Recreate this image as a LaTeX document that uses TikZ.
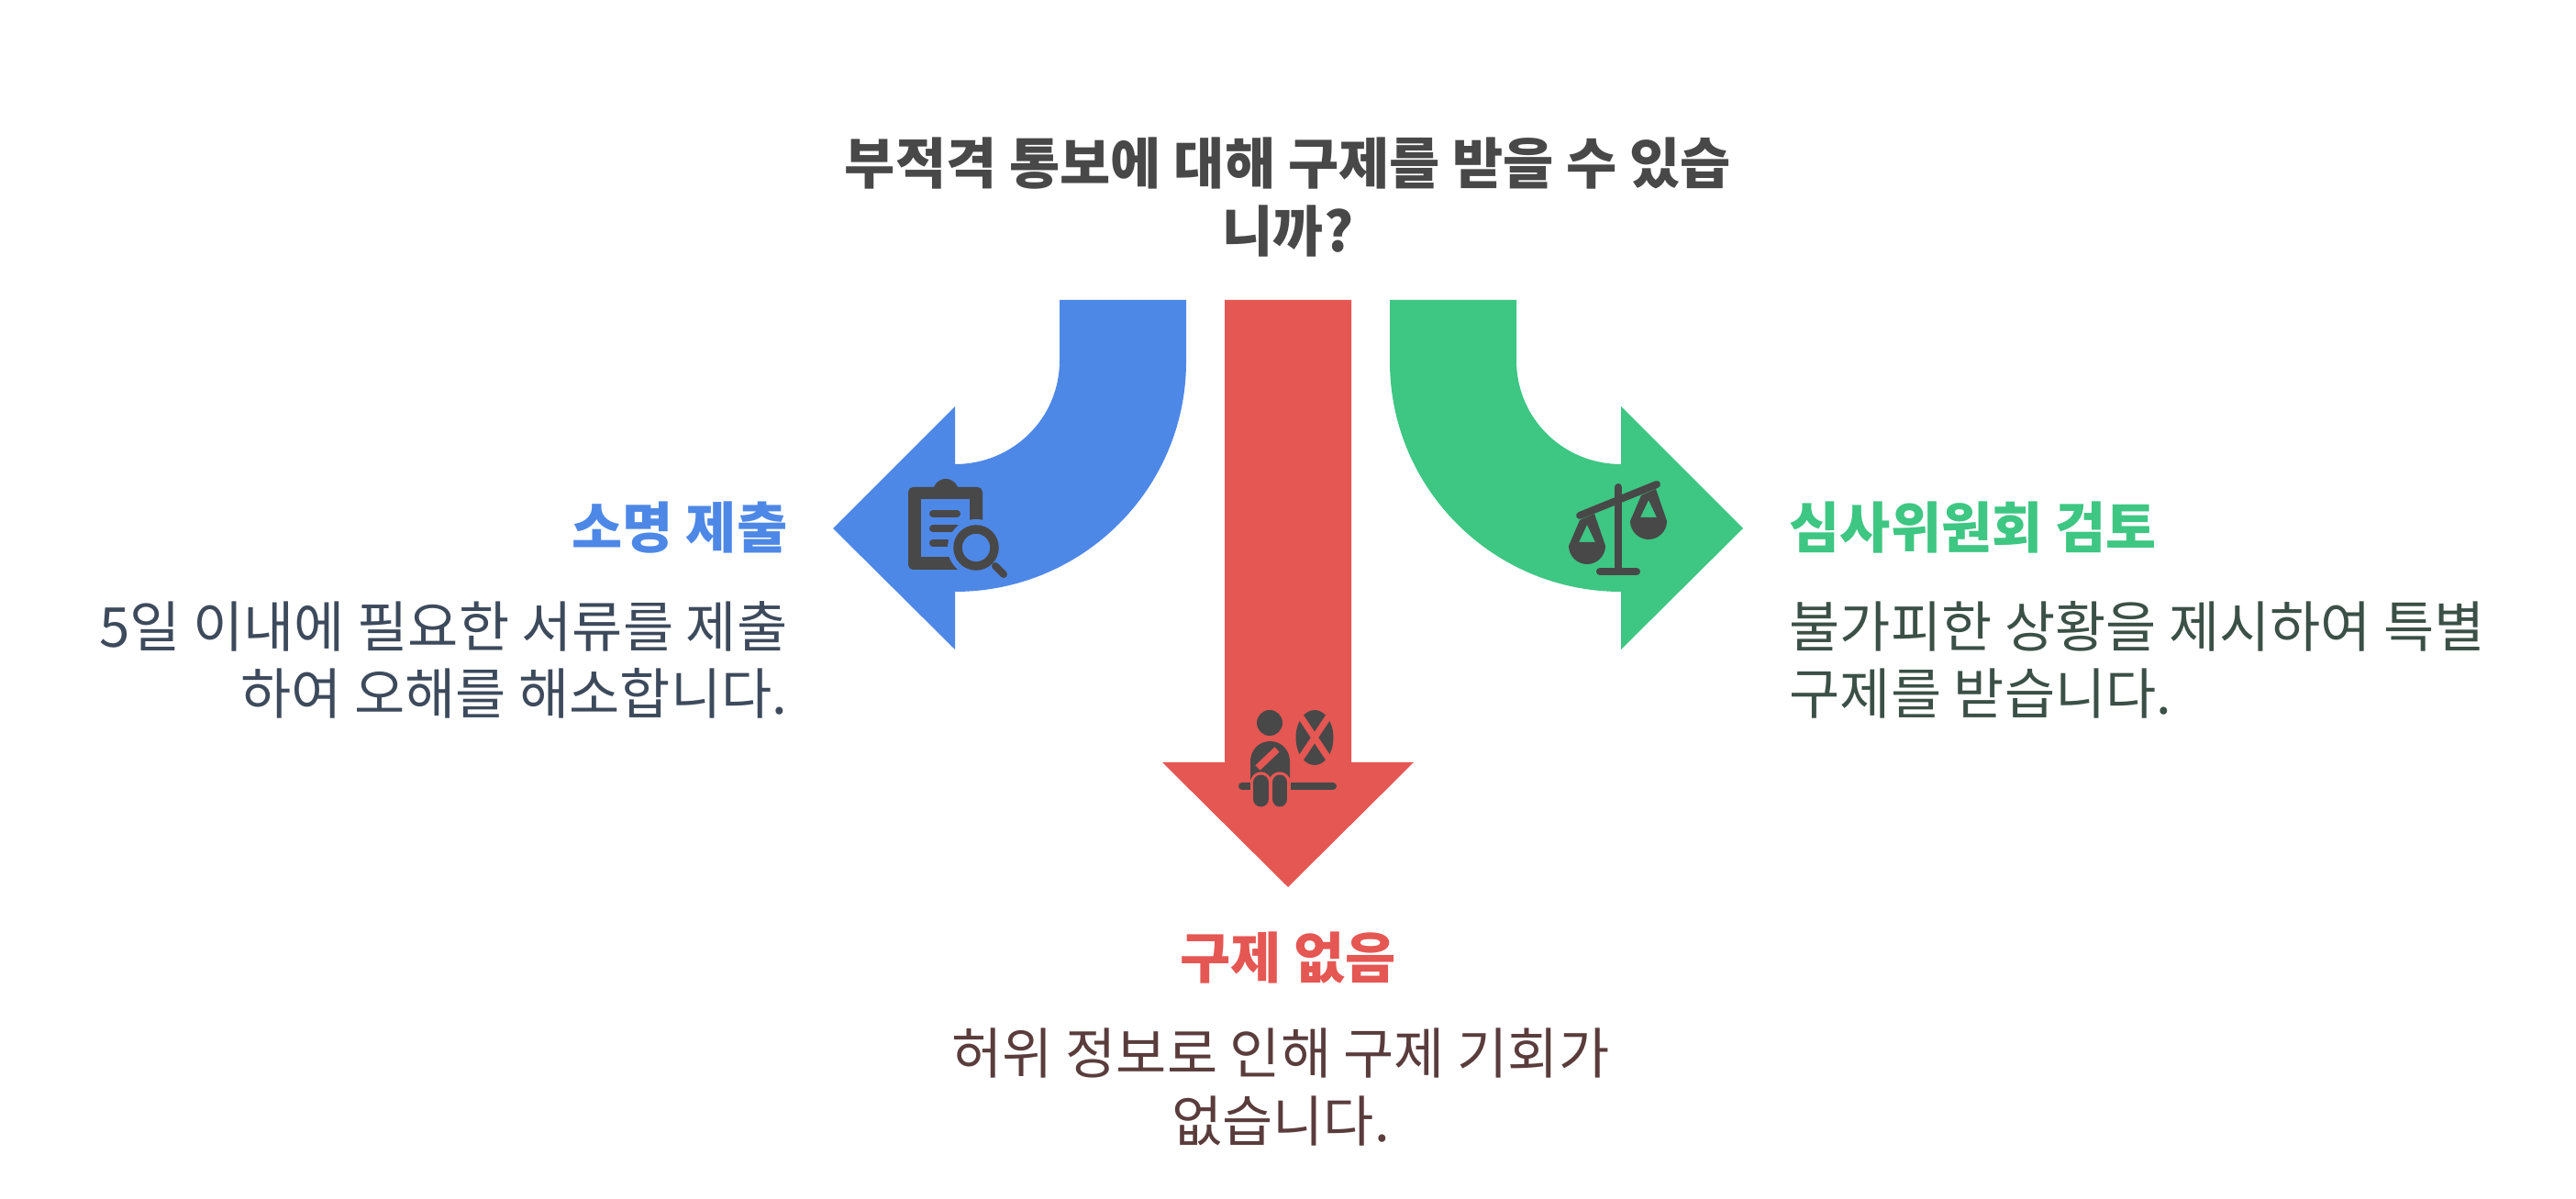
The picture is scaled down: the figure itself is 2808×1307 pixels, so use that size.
\documentclass[tikz,border=0pt]{standalone}
\usepackage{fontspec}
\setmainfont{Noto Sans CJK KR}
\definecolor{appealblue}{HTML}{4E88E7}
\definecolor{noneRed}{HTML}{E55753}
\definecolor{reviewgreen}{HTML}{3EC683}
\definecolor{icondark}{HTML}{484848}
\definecolor{bodyblue}{HTML}{3D4A5C}
\definecolor{bodyred}{HTML}{5A3C3C}
\definecolor{bodygreen}{HTML}{3B5046}
\tikzset{
  headtext/.style={font=\fontsize{17.07}{20.8}\selectfont\bfseries, align=center, text=icondark, inner sep=0pt},
  titletext/.style={font=\fontsize{17.07}{20.8}\selectfont\bfseries, inner sep=0pt},
  bodytext/.style={font=\fontsize{17.07}{20.8}\selectfont, inner sep=0pt},
  iconline/.style={draw=icondark, line width=2.28pt, line cap=round}
}
\begin{document}
\begin{tikzpicture}[x=0.01cm,y=-0.01cm]
  \useasboundingbox (0,0) rectangle (2808,1307);
  % three arrows
  \fill[appealblue] (1155,327) -- (1293,327) -- (1293,394) .. controls (1293,533) and (1180,645) .. (1041,645)
    -- (1041,708) -- (908,576) -- (1041,443) -- (1041,506) .. controls (1104,506) and (1155,456) .. (1155,393) -- cycle;
  \fill[noneRed] (1335,327) -- (1473,327) -- (1473,831) -- (1541,831) -- (1404,967) -- (1267,831) -- (1335,831) -- cycle;
  \fill[reviewgreen] (1653,327) -- (1515,327) -- (1515,394) .. controls (1515,533) and (1628,645) .. (1767,645)
    -- (1767,708) -- (1900,576) -- (1767,443) -- (1767,506) .. controls (1704,506) and (1653,456) .. (1653,393) -- cycle;
  % clipboard icon
  \fill[icondark, rounded corners=1.5pt] (990,531) rectangle (1071,621);
  \fill[icondark] (1031,536) circle[radius=14];
  \fill[appealblue] (1004,544) rectangle (1057,607);
  \draw[iconline] (1017,560) -- (1043,560);
  \draw[iconline] (1017,576) -- (1043,576);
  \draw[iconline] (1017,592) -- (1032,592);
  \fill[appealblue] (1064,597) circle[radius=31];
  \draw[icondark, line width=2.7pt] (1064,597) circle[radius=20];
  \draw[iconline] (1085,617) -- (1094,626);
  % person icon
  \fill[icondark] (1384,788) circle[radius=14];
  \fill[icondark] (1433,804) ellipse[x radius=20.5, y radius=30];
  \draw[noneRed, line width=2pt] (1411,771) -- (1455,837);
  \draw[noneRed, line width=2pt] (1455,771) -- (1411,837);
  \fill[icondark] (1363,850) -- (1363,830) .. controls (1363,818) and (1372,808) .. (1384.5,808)
    .. controls (1397,808) and (1406,818) .. (1406,830) -- (1406,850) -- cycle;
  \draw[noneRed, line width=2.1pt] (1371,837) -- (1392,817);
  \draw[iconline] (1354,857) -- (1453,857);
  \foreach \legx in {1374.5,1395} {
    \draw[noneRed, line width=6.6pt, line cap=round] (\legx,853) -- (\legx,871);
    \draw[icondark, line width=4.8pt, line cap=round] (\legx,853) -- (\legx,871);
  }
  % scales icon
  \draw[iconline] (1764,531) -- (1764,623);
  \draw[iconline] (1744,623) -- (1784,623);
  \draw[iconline] (1722,562) -- (1806,528);
  \foreach \panx/\pany in {1730/595,1797/568} {
    \begin{scope}[shift={(\panx,\pany)}]
      \fill[icondark, even odd rule] (-8,-28) -- (8,-35) -- (20,0) .. controls (20,11) and (11,20) .. (0,20)
        .. controls (-11,20) and (-20,11) .. (-20,0) -- cycle
        (0,-23) -- (9,-4) -- (-9,-4) -- cycle;
    \end{scope}
  }
  % labels
  \node[headtext] (question) at (1404,215) {부적격 통보에 대해 구제를 받을 수 있습\\니까?};
  \node[titletext, text=appealblue, anchor=east] (appealtitle) at (859,575) {소명 제출};
  \node[bodytext, text=bodyblue, anchor=east, align=right] (appealbody) at (859,719) {5일 이내에 필요한 서류를 제출\\하여 오해를 해소합니다.};
  \node[titletext, text=reviewgreen, anchor=west] (reviewtitle) at (1950,575) {심사위원회 검토};
  \node[bodytext, text=bodygreen, anchor=west, align=left] (reviewbody) at (1950,719) {불가피한 상황을 제시하여 특별\\구제를 받습니다.};
  \node[titletext, text=noneRed] (nonetitle) at (1404,1044) {구제 없음};
  \node[bodytext, text=bodyred, align=center] (nonebody) at (1396,1185) {허위 정보로 인해 구제 기회가\\없습니다.};
\end{tikzpicture}
\end{document}
